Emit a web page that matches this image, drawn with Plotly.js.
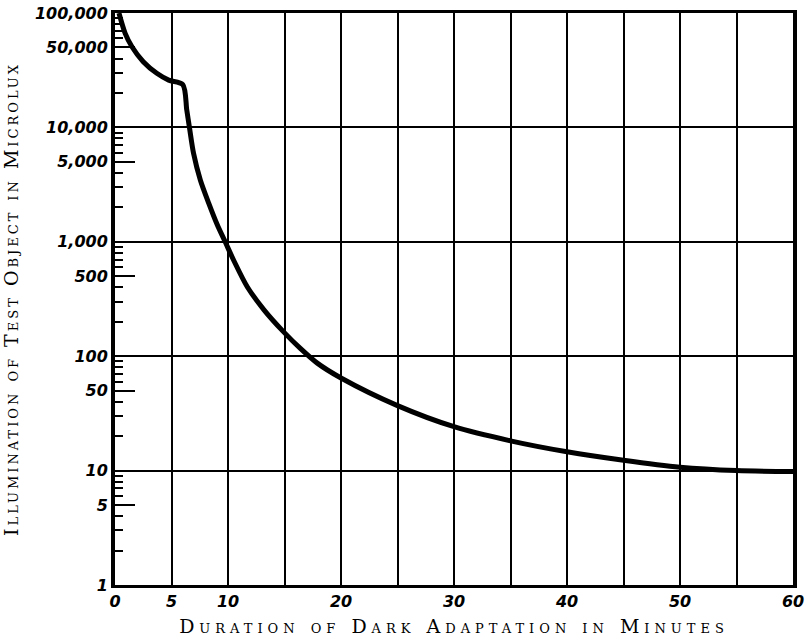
<!DOCTYPE html>
<html>
<head>
<meta charset="utf-8">
<script src="https://cdn.plot.ly/plotly-3.0.1.min.js"></script>
<style>
html,body{margin:0;padding:0;background:#fff;}
#chart{width:812px;height:637px;}
#chart .xtitle{letter-spacing:5px;}
#chart .ytitle{letter-spacing:3px;}
</style>
</head>
<body>
<div id="chart"></div>
<script>
// Duration of dark adaptation (minutes)
const minutes = [0.35, 0.9, 1.5, 2.5, 3.7, 4.75, 6.0, 6.35, 6.6, 6.95, 7.55, 8.3, 9.05, 9.75, 10.5, 11.7, 13.2, 14.9, 16.4, 17.9, 20, 25, 30, 35, 40, 45, 50, 55, 60];
// Illumination of test object (microlux)
const illumination = [100000, 66400, 50700, 37500, 29700, 25900, 23700, 14200, 9800, 5940, 3470, 2170, 1410, 1000, 690, 405, 253, 164, 117, 87, 64.5, 37, 24.2, 18.2, 14.6, 12.3, 10.7, 10.0, 9.8];

const xTickVals = [0, 5, 10, 20, 30, 40, 50, 60];
const xTickText = ['0', '5', '10', '20', '30', '40', '50', '60'];
const yTickVals = [1, 5, 10, 50, 100, 500, 1000, 5000, 10000, 50000, 100000];
const yTickText = ['1', '5', '10', '50', '100', '500', '1,000', '5,000', '10,000', '50,000', '100,000'];
const decades = [1, 10, 100, 1000, 10000, 100000];
const minorMultipliers = [2, 3, 4, 6, 7, 8, 9];

const yMinorVals = [];
decades.slice(0, -1).forEach(d => minorMultipliers.forEach(m => yMinorVals.push(d * m)));

const tickFont = {family: 'DejaVu Sans', size: 16, color: '#000', weight: 'bold', style: 'italic'};
const titleFont = {family: 'DejaVu Serif', size: 19, color: '#000', variant: 'small-caps'};

const data = [
  {
    x: minutes, y: illumination, type: 'scatter', mode: 'lines',
    line: {color: '#000', width: 5, shape: 'spline', smoothing: 0.8},
    hoverinfo: 'skip', showlegend: false
  },
  {
    x: minutes, y: illumination, type: 'scatter', mode: 'lines', yaxis: 'y2',
    line: {color: 'rgba(0,0,0,0)', width: 0},
    hoverinfo: 'skip', showlegend: false
  }
];

const layout = {
  width: 812, height: 637,
  margin: {l: 115, r: 19, t: 13, b: 52},
  paper_bgcolor: '#fff', plot_bgcolor: '#fff',
  showlegend: false,
  xaxis: {
    range: [0, 60], tickvals: xTickVals, ticktext: xTickText,
    showgrid: true, gridcolor: '#000', gridwidth: 2,
    minor: {dtick: 5, tick0: 0, showgrid: true, gridcolor: '#000', gridwidth: 2, ticks: ''},
    ticks: '', showline: true, linecolor: '#000', linewidth: 3, mirror: true,
    tickfont: tickFont, zeroline: false,
    title: {text: 'Duration of Dark Adaptation in Minutes', font: titleFont, standoff: 10}
  },
  yaxis: {
    type: 'log', range: [0, 5], tickvals: yTickVals, ticktext: yTickText,
    showgrid: false, ticks: 'inside', ticklen: 20, tickwidth: 2, tickcolor: '#000',
    minor: {tickvals: yMinorVals, ticks: 'inside', ticklen: 8, tickwidth: 2, tickcolor: '#000', showgrid: false},
    showline: true, linecolor: '#000', linewidth: 4, mirror: true,
    tickfont: tickFont, zeroline: false,
    title: {text: 'Illumination of Test Object in Microlux', font: titleFont, standoff: 12}
  },
  yaxis2: {
    type: 'log', range: [0, 5], overlaying: 'y', tickvals: decades,
    showgrid: true, gridcolor: '#000', gridwidth: 2,
    showticklabels: false, ticks: '', showline: false, zeroline: false
  }
};

Plotly.newPlot('chart', data, layout, {displayModeBar: false, staticPlot: true});
</script>
</body>
</html>
